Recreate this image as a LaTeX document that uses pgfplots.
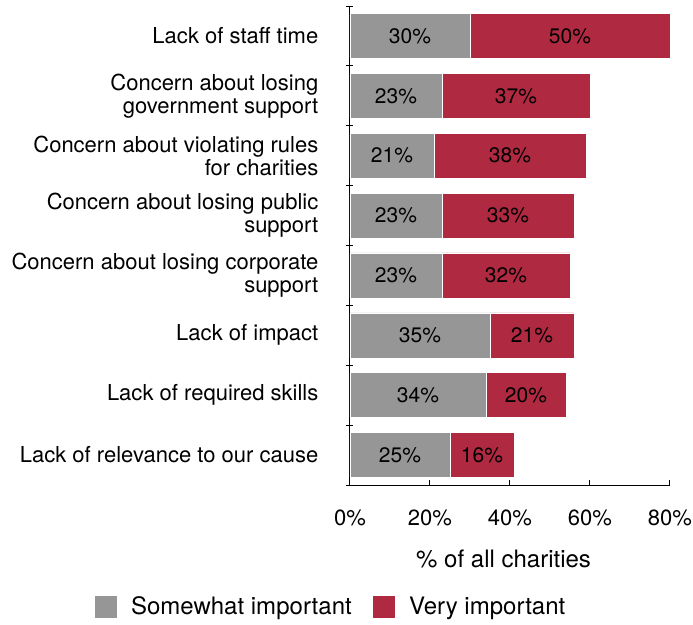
\documentclass[border=0pt]{standalone}
\usepackage{fontspec}
\setmainfont{TeX Gyre Heros}
\usepackage{pgfplots}
\usepackage{pgfplotstable}
\pgfplotsset{compat=1.18}
\definecolor{cgray}{RGB}{150,150,150}
\definecolor{cred}{RGB}{175,41,65}

\pgfplotstableread{
y some very
0 30 50
1 23 37
2 21 38
3 23 33
4 23 32
5 35 21
6 34 20
7 25 16
}\datatable

\pgfplotsset{common/.style={
  at={(0pt,0pt)}, anchor=south west, scale only axis, width=320pt, height=479pt,
  xmin=0, xmax=80, ymin=-0.5, ymax=7.5, y dir=reverse,
  /pgf/number format/assume math mode=true,
}}

\begin{document}
\begin{tikzpicture}
\path[use as bounding box] (-350pt,-139pt) rectangle (343pt,485pt);
\begin{axis}[common,
  xbar stacked, bar width=45pt,
  axis x line*=bottom, axis y line*=left,
  axis line style={line width=1pt, black},
  xtick={0,20,40,60,80}, xticklabels={0\%,20\%,40\%,60\%,80\%},
  xtick align=inside, ytick align=center,
  major tick length=5pt, minor tick length=7pt,
  tick style={line width=1pt, black},
  ytick={0,...,7},
  yticklabels={{Lack of staff time},{Concern about losing\\government support},{Concern about violating rules\\for charities},{Concern about losing public\\support},{Concern about losing corporate\\support},{Lack of impact},{Lack of required skills},{Lack of relevance to our cause}},
  major y tick style={draw=none},
  minor ytick={-0.5,0.5,...,7.5},
  yticklabel style={font=\fontsize{22}{23}\selectfont, align=right, inner sep=0pt, xshift=-29pt},
  xticklabel style={font=\fontsize{22}{22}\selectfont, anchor=base, yshift=-40pt},
  xlabel={\% of all charities},
  xlabel style={font=\fontsize{24}{24}\selectfont, at={(axis description cs:0.48,0)}, anchor=base, yshift=-82pt},
  legend style={draw=none, fill=none, font=\fontsize{24}{24}\selectfont,
    at={(axis description cs:-0.0640,-0.2537)}, anchor=center,
    legend columns=2, inner sep=0pt, nodes={inner sep=0pt},
    /tikz/every odd column/.append style={column sep=14pt},
    /tikz/every even column/.append style={column sep=20pt}},
  every axis plot post/.append style={legend image code/.code={\fill[##1] (0pt,-11.5pt) rectangle (23pt,11.5pt);}},
]
\addplot[fill=cgray, draw=white, line width=0.4pt] table[x=some, y=y] {\datatable};
\addlegendentry{Somewhat important}
\addplot[fill=cred, draw=white, line width=0.4pt] table[x=very, y=y] {\datatable};
\addlegendentry{Very important}
\end{axis}
\begin{axis}[common, hide axis]
\addplot[draw=none, mark=none, nodes near coords={\pgfmathprintnumber{\pgfplotspointmeta}\%}, point meta=explicit,
  every node near coord/.append style={anchor=center, font=\fontsize{21}{21}\selectfont, text=black}]
  table[x expr=\thisrow{some}/2, y=y, meta=some] {\datatable};
\addplot[draw=none, mark=none, nodes near coords={\pgfmathprintnumber{\pgfplotspointmeta}\%}, point meta=explicit,
  every node near coord/.append style={anchor=center, font=\fontsize{21}{21}\selectfont, text=black}]
  table[x expr=\thisrow{some}+\thisrow{very}/2, y=y, meta=very] {\datatable};
\end{axis}
\end{tikzpicture}
\end{document}
